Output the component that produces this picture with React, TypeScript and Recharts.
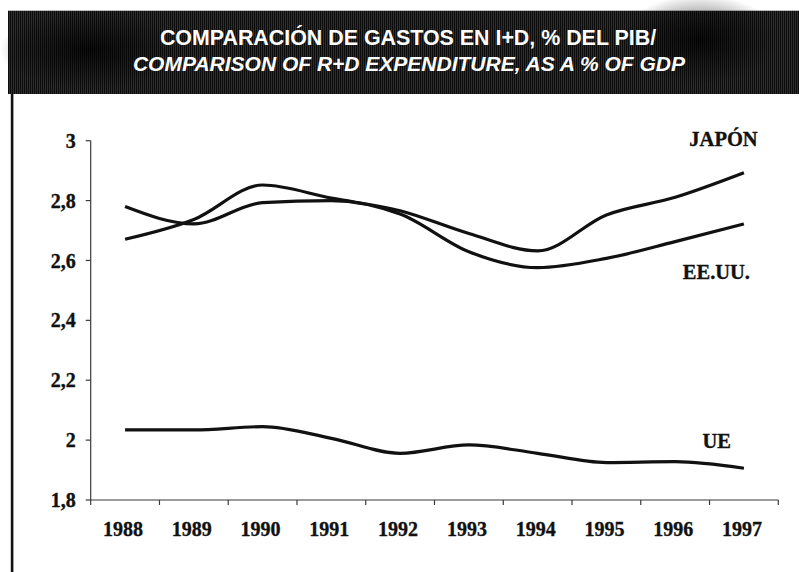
import React from 'react';
import { LineChart, Line, XAxis, YAxis } from 'recharts';

const years = [1988, 1989, 1990, 1991, 1992, 1993, 1994, 1995, 1996, 1997];
const japan = [2.671, 2.737, 2.852, 2.808, 2.766, 2.69, 2.632, 2.752, 2.811, 2.893];
const usa = [2.78, 2.722, 2.793, 2.8, 2.755, 2.629, 2.576, 2.607, 2.663, 2.722];
const ue = [2.034, 2.034, 2.045, 2.006, 1.956, 1.984, 1.956, 1.925, 1.928, 1.906];
const yTicks = [1.8, 2, 2.2, 2.4, 2.6, 2.8, 3];
const yearBoundaries = [1987.5, 1988.5, 1989.5, 1990.5, 1991.5, 1992.5, 1993.5, 1994.5, 1995.5, 1996.5, 1997.5];

const titleLine1 = 'COMPARACIÓN DE GASTOS EN I+D, % DEL PIB/';
const titleLine2 = 'COMPARISON OF R+D EXPENDITURE, AS A % OF GDP';
const seriesNames = { japan: 'JAPÓN', usa: 'EE.UU.', ue: 'UE' };

const data = years.map((year, i) => ({ year, japan: japan[i], usa: usa[i], ue: ue[i] }));
const xTicks = [...yearBoundaries, ...years].sort((a, b) => a - b);

const serif = '"Liberation Serif", "Times New Roman", serif';
const sans = '"Liberation Sans", Arial, Helvetica, sans-serif';
const axisColor = '#3a3a3a';
const ink = '#111';

const XTick = (props: any) => {
  const { x, y, payload } = props;
  const v = payload.value as number;
  if (Number.isInteger(v)) {
    return (
      <text x={x - 2} y={y + 36} textAnchor="middle" fontFamily={serif} fontWeight="bold" fontSize={20} fill={ink} stroke={ink} strokeWidth={0.35}>
        {v}
      </text>
    );
  }
  return <line x1={x} x2={x} y1={y} y2={y + 5} stroke={axisColor} strokeWidth={1.2} />;
};

const fmtY = (v: number) => String(Math.round(v * 10) / 10).replace('.', ',');

export default function App() {
  return (
    <div style={{ position: 'fixed', left: 0, top: 0, width: 799, height: 572, background: '#fff', overflow: 'hidden' }}>
      <svg width={799} height={572} style={{ position: 'absolute', left: 0, top: 0 }}>
        <defs>
          <pattern id="scan" width={2} height={2} patternUnits="userSpaceOnUse">
            <rect x={0} y={0} width={1} height={2} fill="#0c0c0c" />
            <rect x={1} y={0} width={1} height={2} fill="#2e2e2e" />
          </pattern>
          <radialGradient id="blotch" cx="0.5" cy="0.5" r="0.5">
            <stop offset="0" stopColor="#000" stopOpacity={0.75} />
            <stop offset="1" stopColor="#000" stopOpacity={0} />
          </radialGradient>
        </defs>
        <rect x={8} y={10.7} width={791} height={83.3} fill="url(#scan)" />
        <ellipse cx={90} cy={50} rx={90} ry={40} fill="url(#blotch)" />
        <ellipse cx={700} cy={40} rx={80} ry={45} fill="url(#blotch)" />
        <text x={408} y={45} textAnchor="middle" fontFamily={sans} fontWeight="bold" fontSize={21.4} fill="#fff">
          {titleLine1}
        </text>
        <text x={409} y={70.7} textAnchor="middle" fontFamily={sans} fontWeight="bold" fontStyle="italic" fontSize={21} fill="#fff">
          {titleLine2}
        </text>
        <rect x={10.8} y={94} width={2.6} height={478} fill={ink} />
        <text x={723.5} y={146} textAnchor="middle" fontFamily={serif} fontWeight="bold" fontSize={20.5} fill={ink} stroke={ink} strokeWidth={0.35}>
          {seriesNames.japan}
        </text>
        <text x={716.4} y={279.3} textAnchor="middle" fontFamily={serif} fontWeight="bold" fontSize={20.5} fill={ink} stroke={ink} strokeWidth={0.35}>
          {seriesNames.usa}
        </text>
        <text x={716.7} y={448.3} textAnchor="middle" fontFamily={serif} fontWeight="bold" fontSize={20.5} fill={ink} stroke={ink} strokeWidth={0.35}>
          {seriesNames.ue}
        </text>
      </svg>
      <div style={{ position: 'absolute', left: 0, top: 0 }}>
        <LineChart width={799} height={572} data={data} margin={{ top: 140.7, right: 20.7, bottom: 32, left: 10.7 }}>
          <XAxis
            dataKey="year"
            type="number"
            domain={[1987.5, 1997.5]}
            ticks={xTicks}
            interval={0}
            tickLine={false}
            tickSize={0}
            tickMargin={0}
            height={40}
            axisLine={{ stroke: axisColor, strokeWidth: 1.2 }}
            tick={<XTick />}
          />
          <YAxis
            type="number"
            domain={[1.8, 3]}
            ticks={yTicks}
            interval={0}
            width={80}
            tickSize={5}
            tickMargin={10}
            tickFormatter={fmtY}
            axisLine={{ stroke: axisColor, strokeWidth: 1.2 }}
            tickLine={{ stroke: axisColor, strokeWidth: 1.2 }}
            tick={{ fontFamily: serif, fontWeight: 'bold', fontSize: 20, fill: ink, stroke: ink, strokeWidth: 0.35 }}
          />
          <Line type="monotone" dataKey="japan" stroke={ink} strokeWidth={3.2} dot={false} isAnimationActive={false} />
          <Line type="monotone" dataKey="usa" stroke={ink} strokeWidth={3.2} dot={false} isAnimationActive={false} />
          <Line type="monotone" dataKey="ue" stroke={ink} strokeWidth={3.2} dot={false} isAnimationActive={false} />
        </LineChart>
      </div>
    </div>
  );
}
